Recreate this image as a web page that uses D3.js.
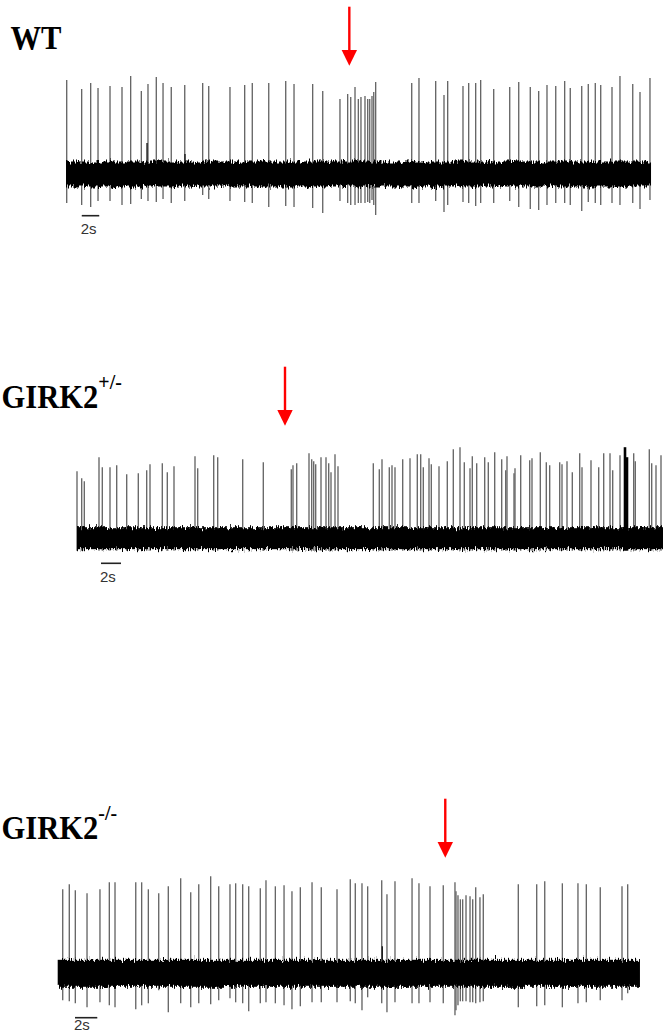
<!DOCTYPE html>
<html>
<head>
<meta charset="utf-8">
<script src="https://cdn.jsdelivr.net/npm/d3@7/dist/d3.min.js"></script>
<style>
  html, body { margin: 0; padding: 0; background: #fff; }
  svg { display: block; }
</style>
</head>
<body>
<svg id="fig" width="663" height="1033"></svg>
<script>
// ---- Extracellular recordings: spike times (s) and amplitudes (a.u.) ----

// WT
const WT_TIMES = [0.08,1.79,2.82,3.66,5.03,6.40,7.39,8.61,9.37,10.32,
  11.09,12.03,13.57,15.62,16.31,18.74,20.42,21.29,23.17,25.11,
  26.06,28.19,29.34,31.31,32.19,32.54,33.03,33.41,33.71,34.17,
  34.48,34.71,34.97,35.17,35.39,39.51,40.34,42.25,43.20,43.62,
  45.37,46.02,46.82,47.39,48.88,50.71,51.74,53.06,54.02,54.97,
  55.97,56.99,57.63,58.94,59.69,60.49,61.11,62.40,63.31,64.77,
  65.60,66.74];
const WT_UP = [94,85,91,86,88,87,98,83,90,97,
  91,87,89,91,88,87,89,91,91,93,
  90,90,83,75,80,77,87,75,77,78,
  75,75,78,82,92,91,96,93,79,93,
  88,91,91,94,85,87,92,87,83,89,
  88,93,86,88,90,91,89,87,98,90,
  82,96];
const WT_DOWN = [29,31,33,27,27,31,30,25,27,28,
  25,29,27,21,25,27,28,29,33,32,
  33,34,39,27,29,31,31,29,29,29,
  28,29,26,31,41,29,29,27,38,31,
  28,29,32,29,29,27,33,35,36,31,
  29,29,31,37,28,29,31,29,31,29,
  35,26];
const WT_BLIP_TIMES = [9.26, 13.60];
const WT_BLIP_UP = [31, 20];
const WT_DURATION = 66.86;
const WT_DRUG_TIME = 32.38;

// GIRK2 +/-
const HET_TIMES = [0.00,0.47,0.73,2.20,2.53,3.30,3.97,4.97,6.13,6.97,
  7.30,8.53,9.03,9.70,11.80,12.07,13.67,14.07,16.57,18.63,
  21.43,21.60,21.97,23.20,23.47,23.67,23.87,24.40,24.90,25.17,
  25.40,25.80,26.10,29.63,30.23,30.50,31.23,31.50,31.80,32.57,
  33.30,34.03,34.37,34.63,35.20,35.43,36.20,37.03,37.63,38.30,
  38.73,39.30,39.53,39.97,40.77,41.13,41.77,42.47,42.87,43.00,
  43.70,43.80,44.37,45.27,45.50,46.33,46.93,47.27,48.27,48.50,
  49.00,49.53,50.27,50.50,51.40,52.17,52.67,53.30,53.57,54.30,
  55.67,55.83,57.23,57.47,57.90,58.40];
const HET_UP = [67,60,57,81,71,71,73,64,65,68,
  74,75,66,72,82,70,83,81,79,76,
  69,73,75,85,79,77,74,81,81,75,
  66,84,72,75,69,79,71,73,71,79,
  80,84,84,71,80,74,72,77,89,91,
  76,70,82,75,81,76,86,79,68,82,
  65,70,83,78,80,86,76,73,76,74,
  77,66,85,71,78,71,85,85,68,83,
  85,77,89,75,73,83];
const HET_BURST_TIMES = [54.80, 55.00];
const HET_BURST_UP = [91, 81];
const HET_DURATION = 58.6;
const HET_DRUG_TIME = 20.8;

// GIRK2 -/-
const KO_TIMES = [0.45,1.04,1.58,2.63,3.79,4.63,5.14,7.00,7.53,8.13,
  9.06,9.92,11.03,11.93,12.65,13.72,14.44,15.45,15.96,16.59,
  17.13,18.17,18.68,19.52,20.30,21.01,21.76,22.81,23.64,25.05,
  26.24,26.69,27.29,27.80,29.06,29.53,30.25,31.78,32.40,33.39,
  34.58,35.63,35.72,35.90,36.11,36.32,36.62,36.98,37.22,37.49,
  37.87,38.17,41.31,42.96,43.68,45.26,46.66,47.41,48.66,50.61,
  51.12];
const KO_UP = [84,89,83,80,84,91,91,91,91,84,
  80,87,95,81,89,97,87,89,90,89,
  87,85,93,87,88,82,86,91,86,84,
  94,90,90,87,93,79,92,95,90,87,
  88,91,82,78,74,74,78,77,74,86,
  76,79,89,89,92,90,90,89,86,87,
  89];
const KO_DOWN = [27,28,30,34,29,32,34,36,32,30,
  17,39,30,34,30,31,27,25,29,30,
  38,30,29,30,32,36,33,29,29,29,
  28,30,37,24,30,39,29,30,30,29,
  30,42,37,32,28,28,28,29,29,30,
  29,28,34,33,32,34,30,29,27,27,
  20];
const KO_BLIP_TIMES = [29.11];
const KO_BLIP_UP = [27];
const KO_DURATION = 52.22;
const KO_DRUG_TIME = 34.76;

const SCALE_BAR_SECONDS = 2;
const SCALE_BAR_LABEL = "2s";

// ---- Panel layout ----
const panels = [
  { name: "WT", sup: null, times: WT_TIMES, up: WT_UP, down: WT_DOWN,
    blipT: WT_BLIP_TIMES, blipU: WT_BLIP_UP, burstT: [], burstU: [],
    duration: WT_DURATION, drug: WT_DRUG_TIME,
    x0: 66, pxPerSec: 8.75, mid: 174, noise: 14,
    labelX: 10.5, labelY: 48.5, tipY: 65.7, barStart: 1.8, barY: 215.7, barTextY: 234 },
  { name: "GIRK2", sup: "+/-", times: HET_TIMES, up: HET_UP, down: null,
    blipT: [], blipU: [], burstT: HET_BURST_TIMES, burstU: HET_BURST_UP,
    duration: HET_DURATION, drug: HET_DRUG_TIME,
    x0: 77, pxPerSec: 10, mid: 538.2, noise: 12.5,
    labelX: 1.5, labelY: 407.5, tipY: 425.7, barStart: 2.4, barY: 563.3, barTextY: 582.3 },
  { name: "GIRK2", sup: "-/-", times: KO_TIMES, up: KO_UP, down: KO_DOWN,
    blipT: KO_BLIP_TIMES, blipU: KO_BLIP_UP, burstT: [], burstU: [],
    duration: KO_DURATION, drug: KO_DRUG_TIME,
    x0: 57.7, pxPerSec: 11.15, mid: 973.3, noise: 15,
    labelX: 1.5, labelY: 839, tipY: 857.7, barStart: 1.55, barY: 1017.7, barTextY: 1030 }
];

const svg = d3.select("#fig");

// Jagged noise edge: vertical-only displacement driven by fine turbulence
const defs = svg.append("defs");
const filt = defs.append("filter").attr("id", "noiseEdge")
  .attr("filterUnits", "userSpaceOnUse")
  .attr("x", 0).attr("y", 0).attr("width", 663).attr("height", 1033);
filt.append("feTurbulence").attr("type", "fractalNoise")
  .attr("baseFrequency", "0.85 0.12").attr("numOctaves", 2).attr("seed", 7)
  .attr("result", "turb");
filt.append("feColorMatrix").attr("in", "turb").attr("type", "matrix")
  .attr("values", "0 0 0 0 0.5  0 1 0 0 0  0 0 0 0 0  0 0 0 0 1")
  .attr("result", "dmap");
filt.append("feDisplacementMap").attr("in", "SourceGraphic").attr("in2", "dmap")
  .attr("scale", 11).attr("xChannelSelector", "R").attr("yChannelSelector", "G");

panels.forEach(p => {
  const x = d3.scaleLinear()
    .domain([0, p.duration])
    .range([p.x0, p.x0 + p.duration * p.pxPerSec]);
  const y = d3.scaleLinear().domain([-60, 120]).range([p.mid + 60, p.mid - 120]);

  const g = svg.append("g");

  // spikes
  const spikes = p.times.map((t, i) => ({
    t, up: p.up[i], down: p.down ? p.down[i] : p.noise
  }));
  g.append("g").selectAll("line").data(spikes).join("line")
    .attr("x1", d => x(d.t)).attr("x2", d => x(d.t))
    .attr("y1", d => y(d.up)).attr("y2", d => y(-d.down))
    .attr("stroke", "#666").attr("stroke-width", 1.35);

  // strong doublet
  g.append("g").selectAll("line").data(p.burstT.map((t, i) => ({ t, up: p.burstU[i] }))).join("line")
    .attr("x1", d => x(d.t)).attr("x2", d => x(d.t))
    .attr("y1", d => y(d.up)).attr("y2", y(-p.noise))
    .attr("stroke", "#000").attr("stroke-width", 2.6);

  // small sub-threshold events
  g.append("g").selectAll("line").data(p.blipT.map((t, i) => ({ t, up: p.blipU[i] }))).join("line")
    .attr("x1", d => x(d.t)).attr("x2", d => x(d.t))
    .attr("y1", d => y(d.up)).attr("y2", y(0))
    .attr("stroke", "#111").attr("stroke-width", 1.3);

  // baseline noise band
  g.append("rect")
    .attr("x", x(0)).attr("width", x(p.duration) - x(0))
    .attr("y", y(p.noise - 1.5)).attr("height", y(-(p.noise - 1.5)) - y(p.noise - 1.5))
    .attr("fill", "#000")
    .attr("filter", "url(#noiseEdge)");

  // drug application arrow
  const ax = x(p.drug);
  g.append("line")
    .attr("x1", ax).attr("x2", ax)
    .attr("y1", p.tipY - 59).attr("y2", p.tipY - 14)
    .attr("stroke", "#ff0000").attr("stroke-width", 2.4);
  g.append("path")
    .attr("d", `M${ax - 7.7},${p.tipY - 15.7} L${ax + 7.7},${p.tipY - 15.7} L${ax},${p.tipY} Z`)
    .attr("fill", "#ff0000");

  // genotype label (slightly condensed bold serif)
  const lab = svg.append("text")
    .attr("transform", `translate(${p.labelX},${p.labelY}) scale(0.9,1)`)
    .attr("font-family", "'Liberation Serif', 'Times New Roman', serif")
    .attr("font-weight", "bold").attr("font-size", 34).attr("fill", "#000")
    .text(p.name);
  if (p.sup) {
    lab.append("tspan")
      .attr("dy", -19).attr("font-size", 22)
      .text(p.sup);
  }

  // time scale bar
  const bx0 = x(p.barStart), bx1 = x(p.barStart + SCALE_BAR_SECONDS);
  g.append("line")
    .attr("x1", bx0).attr("x2", bx1).attr("y1", p.barY).attr("y2", p.barY)
    .attr("stroke", "#222").attr("stroke-width", 1.6);
  g.append("text")
    .attr("x", bx0 - 1).attr("y", p.barTextY)
    .attr("font-family", "'Liberation Sans', Arial, sans-serif")
    .attr("font-size", 15).attr("fill", "#333")
    .text(SCALE_BAR_LABEL);
});
</script>
</body>
</html>
